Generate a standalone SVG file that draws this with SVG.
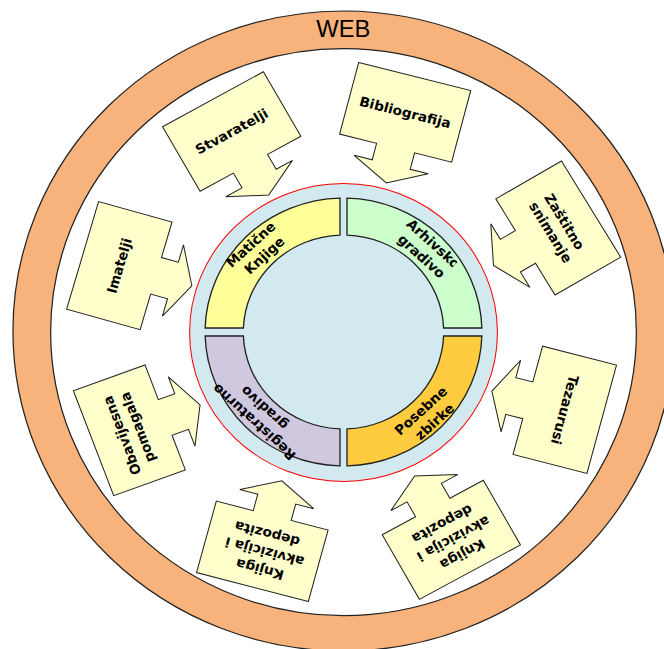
<svg xmlns="http://www.w3.org/2000/svg" width="664" height="649" viewBox="0 0 664 649">
  <style>
    .ring-line { stroke: #222; stroke-width: 1.2; }
    .quad { stroke: #222; stroke-width: 1.3; }
    .box { fill: #FFFFCC; stroke: #222; stroke-width: 1; stroke-linejoin: miter; }
    .lbl { font-family: "DejaVu Sans", Verdana, sans-serif; font-weight: bold; font-size: 13.33px; fill: #000; text-anchor: middle; }
    .web { font-family: "Liberation Sans", Arial, sans-serif; font-size: 23px; fill: #000; text-anchor: middle; }
  </style>
  <defs>
    <!-- rectangle callout with a short arrow pointing along +y -->
    <path id="callout" class="box" d="M-56,-37 L56,-37 L56,37 L19,37 L19,54 L37,54 L0,73 L-37,54 L-19,54 L-19,37 L-56,37 Z"/>
    <clipPath id="clip-arhivsko">
      <rect x="-60" y="-30" width="89.5" height="60"/>
    </clipPath>
  </defs>

  <!-- whole drawing is slightly widened horizontally -->
  <g transform="translate(343.5 0) scale(1.033 1) translate(-343.5 0)">

    <g id="web">
      <circle class="ring-line" cx="343.5" cy="331" r="320" fill="#F7B37B"/>
      <circle class="ring-line" cx="343.5" cy="332.2" r="283.5" fill="#FFFFFF"/>
      <text class="web" x="343.3" y="37.5">WEB</text>
    </g>

    <g id="core">
      <circle cx="343.5" cy="332.5" r="149" fill="#D1E9EF" stroke="#FF0000" stroke-width="1"/>
    </g>

    <g id="maticne-knjige">
      <path class="quad" fill="#FFFF99" d="M340.1,198.04 A134,134 0 0 0 209.56,328 L246.58,328 A97,97 0 0 1 340.1,235.06 Z"/>
      <text class="lbl" transform="translate(261.1 249.2) rotate(-43)">
        <tspan x="0" y="-3.8">Matične</tspan>
        <tspan x="0" y="13.2">Knjige</tspan>
      </text>
    </g>

    <g id="arhivsko-gradivo">
      <path class="quad" fill="#CCFFCC" d="M346.9,198.04 A134,134 0 0 1 477.44,328 L440.42,328 A97,97 0 0 0 346.9,235.06 Z"/>
      <g transform="translate(424.8 250) rotate(43)">
        <text class="lbl" clip-path="url(#clip-arhivsko)" x="0" y="-3.8">Arhivsko</text>
        <text class="lbl" x="0" y="13.2">gradivo</text>
      </g>
    </g>

    <g id="posebne-zbirke">
      <path class="quad" fill="#FFCC40" d="M477.44,336 A134,134 0 0 1 346.9,465.96 L346.9,428.94 A97,97 0 0 0 440.42,336 Z"/>
      <text class="lbl" transform="translate(425.9 415.4) rotate(-43)">
        <tspan x="0" y="-3.8">Posebne</tspan>
        <tspan x="0" y="13.2">zbirke</tspan>
      </text>
    </g>

    <g id="registraturno-gradivo">
      <path class="quad" fill="#D0C8DF" d="M209.56,336 A134,134 0 0 0 340.1,465.96 L340.1,428.94 A97,97 0 0 1 246.58,336 Z"/>
      <text class="lbl" transform="translate(261 414.2) rotate(223)">
        <tspan x="0" y="-3.8">Registraturno</tspan>
        <tspan x="0" y="13.2">gradivo</tspan>
      </text>
    </g>

    <g id="stvaratelji" transform="translate(235.3 131.5) rotate(-29.4)">
      <use href="#callout"/>
      <text class="lbl" x="0" y="4.7">Stvaratelji</text>
    </g>

    <g id="bibliografija" transform="translate(403.2 112.3) rotate(14.5)">
      <use href="#callout"/>
      <text class="lbl" x="0" y="4.7">Bibliografija</text>
    </g>

    <g id="zastitno-snimanje" transform="translate(551.4 228) rotate(59.2)">
      <use href="#callout"/>
      <text class="lbl">
        <tspan x="0" y="-3.8">Zaštitno</tspan>
        <tspan x="0" y="13.2">snimanje</tspan>
      </text>
    </g>

    <g id="tezaurusi" transform="translate(557.7 409.8) rotate(104.8)">
      <use href="#callout"/>
      <text class="lbl" x="0" y="4.7">Tezaurusi</text>
    </g>

    <g id="knjiga-desno" transform="translate(447.9 539.8) rotate(150.9)">
      <use href="#callout"/>
      <text class="lbl">
        <tspan x="0" y="-13.3">Knjiga</tspan>
        <tspan x="0" y="4.7">akvizicija i</tspan>
        <tspan x="0" y="22.7">depozita</tspan>
      </text>
    </g>

    <g id="knjiga-lijevo" transform="translate(264.9 551.3) rotate(195)">
      <use href="#callout"/>
      <text class="lbl">
        <tspan x="0" y="-13.3">Knjiga</tspan>
        <tspan x="0" y="4.7">akvizicija i</tspan>
        <tspan x="0" y="22.7">depozita</tspan>
      </text>
    </g>

    <g id="obavijesna-pomagala" transform="translate(136.2 430.3) rotate(249.6)">
      <use href="#callout"/>
      <text class="lbl">
        <tspan x="0" y="-3.8">Obavijesna</tspan>
        <tspan x="0" y="13.2">pomagala</tspan>
      </text>
    </g>

    <g id="imatelji" transform="translate(126.5 265.6) rotate(286)">
      <use href="#callout"/>
      <text class="lbl" x="0" y="4.7">Imatelji</text>
    </g>

  </g>
</svg>
